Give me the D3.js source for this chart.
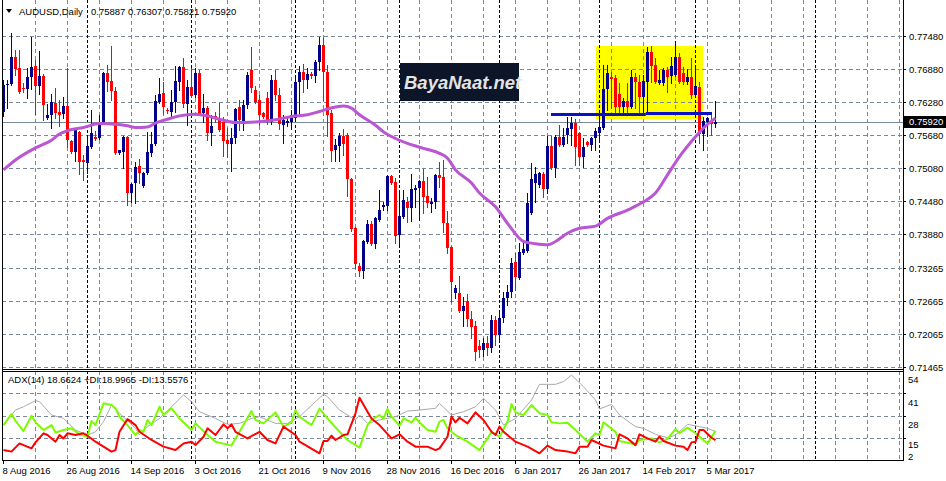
<!DOCTYPE html>
<html><head><meta charset="utf-8">
<script src="https://cdn.jsdelivr.net/npm/d3@7"></script>
<style>
body{margin:0;background:#fff}
svg{display:block}
text{font-family:"Liberation Sans",Arial,sans-serif;font-size:9.5px;fill:#000}
</style>
</head><body>
<svg id="c" width="946" height="481"></svg>
<script>
// ---------------- DATA ----------------
const symbolTitle = "AUDUSD,Daily";
const headerValues = "0.75887 0.76307 0.75821 0.75920";
const adxTitle = "ADX(14) 18.6624 +DI:18.9965 -DI:13.5576";
const lastPrice = 0.75920;
const lastPriceLabel = "0.75920";

const opens = [0.7610,0.7659,0.7661,0.7710,0.7690,0.7653,0.7652,0.7673,0.7693,0.7657,
0.7675,0.7599,0.7604,0.7626,0.7610,0.7606,0.7621,0.7557,0.7537,0.7573,
0.7523,0.7517,0.7546,0.7564,0.7563,0.7590,0.7681,0.7666,0.7648,0.7535,
0.7537,0.7564,0.7463,0.7481,0.7512,0.7475,0.7499,0.7535,0.7552,0.7628,
0.7644,0.7613,0.7610,0.7628,0.7664,0.7692,0.7624,0.7655,0.7641,0.7681,
0.7608,0.7617,0.7572,0.7603,0.7599,0.7592,0.7559,0.7552,0.7563,0.7619,
0.7590,0.7622,0.7686,0.7650,0.7632,0.7608,0.7635,0.7592,0.7668,0.7641,
0.7586,0.7590,0.7592,0.7599,0.7664,0.7683,0.7668,0.7679,0.7675,0.7701,
0.7732,0.7683,0.7608,0.7541,0.7548,0.7566,0.7568,0.7488,0.7399,0.7330,
0.7321,0.7374,0.7406,0.7370,0.7414,0.7437,0.7439,0.7494,0.7483,0.7387,
0.7419,0.7446,0.7436,0.7468,0.7472,0.7485,0.7457,0.7443,0.7446,0.7495,
0.7492,0.7408,0.7365,0.7281,0.7281,0.7249,0.7267,0.7234,0.7221,0.7185,
0.7178,0.7191,0.7181,0.7232,0.7205,0.7236,0.7272,0.7283,0.7338,0.7308,
0.7354,0.7357,0.7426,0.7481,0.7477,0.7497,0.7470,0.7548,0.7508,0.7564,
0.7550,0.7568,0.7579,0.7590,0.7572,0.7528,0.7555,0.7550,0.7563,0.7572,
0.7581,0.7652,0.7673,0.7672,0.7642,0.7619,0.7630,0.7619,0.7673,0.7664,
0.7637,0.7664,0.7719,0.7695,0.7662,0.7662,0.7686,0.7675,0.7677,0.7710,
0.7681,0.7664,0.7673,0.7641,0.7655,0.7570,0.7592,0.7592,0.75887];

const highs = [0.7668,0.7668,0.7753,0.7722,0.7722,0.7662,0.7690,0.7746,0.7704,0.7721,
0.7679,0.7624,0.7642,0.7653,0.7632,0.7637,0.7690,0.7559,0.7581,0.7575,
0.7532,0.7564,0.7613,0.7575,0.7604,0.7683,0.7695,0.7730,0.7655,0.7541,
0.7566,0.7566,0.7481,0.7519,0.7524,0.7501,0.7573,0.7573,0.7641,0.7672,
0.7664,0.7617,0.7650,0.7693,0.7693,0.7708,0.7668,0.7690,0.7690,0.7686,
0.7642,0.7621,0.7604,0.7610,0.7626,0.7601,0.7581,0.7581,0.7617,0.7632,
0.7632,0.7683,0.7728,0.7657,0.7641,0.7610,0.7646,0.7677,0.7686,0.7653,
0.7604,0.7599,0.7613,0.7672,0.7693,0.7697,0.7690,0.7683,0.7704,0.7746,
0.7744,0.7695,0.7613,0.7561,0.7572,0.7579,0.7572,0.7490,0.7401,0.7336,
0.7377,0.7414,0.7412,0.7419,0.7468,0.7446,0.7495,0.7495,0.7490,0.7468,
0.7468,0.7455,0.7497,0.7477,0.7486,0.7506,0.7492,0.7454,0.7497,0.7519,
0.7523,0.7430,0.7367,0.7296,0.7312,0.7274,0.7279,0.7249,0.7230,0.7196,
0.7200,0.7203,0.7241,0.7240,0.7247,0.7283,0.7296,0.7345,0.7354,0.7372,
0.7372,0.7463,0.7517,0.7510,0.7501,0.7501,0.7566,0.7566,0.7568,0.7586,
0.7581,0.7601,0.7601,0.7597,0.7573,0.7563,0.7557,0.7564,0.7581,0.7601,
0.7695,0.7695,0.7683,0.7677,0.7662,0.7635,0.7662,0.7686,0.7681,0.7677,
0.7677,0.7728,0.7730,0.7708,0.7686,0.7690,0.7692,0.7710,0.7739,0.7717,
0.7692,0.7688,0.7708,0.7692,0.7664,0.7601,0.7601,0.7608,0.76307];

const lows = [0.7603,0.7617,0.7659,0.7677,0.7644,0.7646,0.7635,0.7652,0.7606,0.7642,
0.7595,0.7597,0.7581,0.7599,0.7584,0.7599,0.7546,0.7535,0.7521,0.7497,
0.7486,0.7499,0.7544,0.7559,0.7561,0.7588,0.7648,0.7632,0.7534,0.7534,
0.7508,0.7441,0.7446,0.7445,0.7481,0.7474,0.7497,0.7530,0.7550,0.7626,
0.7606,0.7608,0.7599,0.7610,0.7650,0.7619,0.7586,0.7637,0.7637,0.7604,
0.7592,0.7559,0.7550,0.7592,0.7575,0.7530,0.7528,0.7503,0.7553,0.7577,
0.7577,0.7617,0.7646,0.7626,0.7586,0.7599,0.7588,0.7588,0.7632,0.7579,
0.7553,0.7584,0.7579,0.7595,0.7608,0.7646,0.7653,0.7672,0.7664,0.7686,
0.7632,0.7566,0.7521,0.7521,0.7521,0.7532,0.7457,0.7394,0.7327,0.7312,
0.7308,0.7372,0.7368,0.7363,0.7412,0.7432,0.7432,0.7479,0.7372,0.7370,
0.7417,0.7410,0.7412,0.7437,0.7414,0.7426,0.7437,0.7428,0.7436,0.7474,
0.7392,0.7354,0.7265,0.7272,0.7247,0.7221,0.7221,0.7200,0.7160,0.7165,
0.7167,0.7169,0.7174,0.7187,0.7196,0.7229,0.7259,0.7274,0.7287,0.7307,
0.7352,0.7356,0.7425,0.7446,0.7474,0.7455,0.7463,0.7506,0.7492,0.7548,
0.7548,0.7553,0.7550,0.7514,0.7514,0.7510,0.7548,0.7541,0.7541,0.7559,
0.7579,0.7613,0.7617,0.7608,0.7608,0.7608,0.7608,0.7617,0.7617,0.7610,
0.7610,0.7610,0.7664,0.7662,0.7661,0.7659,0.7646,0.7662,0.7675,0.7662,
0.7661,0.7661,0.7635,0.7637,0.7553,0.7541,0.7566,0.7568,0.75821];

const closes = [0.7659,0.7661,0.7710,0.7688,0.7646,0.7652,0.7673,0.7692,0.7657,0.7675,
0.7622,0.7604,0.7628,0.7608,0.7604,0.7621,0.7559,0.7537,0.7579,0.7519,
0.7519,0.7548,0.7572,0.7561,0.7590,0.7681,0.7664,0.7648,0.7535,0.7541,
0.7564,0.7463,0.7479,0.7510,0.7499,0.7499,0.7537,0.7552,0.7630,0.7642,
0.7619,0.7612,0.7628,0.7666,0.7692,0.7624,0.7655,0.7639,0.7681,0.7606,
0.7617,0.7572,0.7584,0.7597,0.7577,0.7557,0.7552,0.7563,0.7615,0.7595,
0.7622,0.7677,0.7653,0.7628,0.7604,0.7601,0.7592,0.7668,0.7641,0.7588,
0.7595,0.7593,0.7604,0.7664,0.7683,0.7668,0.7679,0.7675,0.7701,0.7732,
0.7683,0.7604,0.7539,0.7550,0.7566,0.7552,0.7488,0.7397,0.7334,0.7321,
0.7376,0.7406,0.7370,0.7417,0.7432,0.7441,0.7494,0.7481,0.7385,0.7421,
0.7450,0.7436,0.7470,0.7472,0.7485,0.7455,0.7445,0.7446,0.7495,0.7490,
0.7408,0.7363,0.7301,0.7290,0.7249,0.7258,0.7234,0.7220,0.7174,0.7178,
0.7191,0.7181,0.7232,0.7205,0.7236,0.7272,0.7283,0.7336,0.7310,0.7356,
0.7361,0.7445,0.7488,0.7497,0.7499,0.7470,0.7548,0.7508,0.7564,0.7550,
0.7564,0.7581,0.7590,0.7546,0.7528,0.7546,0.7550,0.7563,0.7575,0.7583,
0.7652,0.7681,0.7670,0.7619,0.7619,0.7630,0.7619,0.7673,0.7664,0.7637,
0.7666,0.7719,0.7693,0.7664,0.7668,0.7686,0.7673,0.7693,0.7710,0.7664,
0.7664,0.7673,0.7641,0.7657,0.7570,0.7593,0.7599,0.7588,0.75920];

// moving average (purple), read at sample bars
const maBars = [0,3,8,12,14,16,20,24,28,31,33,36,38,41,44,48,51,54,58,63,68,72,76,79,83,85,87,89,93,95,98,101,105,109,111,113,117,119,123,126,130,133,136,138,141,144,148,151,156,160,163,166,169,173,175,178];
const maValues = [0.7505,0.7523,0.7545,0.7559,0.7570,0.7576,0.7582,0.7589,0.7588,0.7585,0.7582,0.7583,0.7590,0.7597,0.7603,0.7606,0.7603,0.7597,0.7591,0.7592,0.7596,0.7602,0.7605,0.7611,0.7619,0.7621,0.7617,0.7605,0.7586,0.7574,0.7562,0.7553,0.7544,0.7535,0.7526,0.7505,0.7481,0.7463,0.7438,0.7408,0.7375,0.7371,0.7369,0.7375,0.7390,0.7399,0.7403,0.7417,0.7432,0.7447,0.7463,0.7496,0.7529,0.7565,0.7581,0.7599];

// ADX(14) pane
const plusDIBars = [0,2,3,5,7,8,10,12,13,15,17,19,21,22,23,25,27,28,29,31,33,34,35,36,37,39,40,42,44,47,48,51,53,57,59,62,63,65,68,70,72,73,74,77,79,81,84,86,89,91,92,94,95,96,97,99,100,102,103,104,106,108,109,110,111,113,116,119,121,122,124,126,127,128,130,132,134,136,137,139,141,143,146,148,149,150,153,154,157,158,159,162,164,166,168,169,171,173,174,176,178];
const plusDIValues = [22.4,28.9,24.8,18.9,27.9,24.0,19.5,22.4,18.1,19.5,20.5,17.0,15.6,24.8,22.4,35.1,34.1,32.2,27.3,22.4,16.6,19.5,18.5,25.4,22.4,33.1,28.3,32.2,26.3,19.5,23.4,16.6,12.7,10.4,18.5,30.6,25.4,23.4,29.8,21.5,24.0,31.2,27.3,22.4,32.0,26.3,18.5,13.7,9.2,22.4,25.4,28.3,26.3,31.8,27.3,22.0,26.3,24.0,26.7,24.0,19.5,18.5,24.4,25.4,20.5,16.6,12.7,7.8,14.6,18.5,15.6,24.4,34.7,29.8,28.3,34.1,29.3,28.3,24.0,23.4,23.8,19.5,12.7,17.6,16.6,24.0,18.5,13.1,11.7,10.7,13.7,14.6,12.3,14.3,20.1,17.6,20.9,17.6,15.6,11.7,19.0];
const minusDIBars = [0,2,4,5,7,8,10,11,13,14,15,16,18,20,21,23,27,28,29,31,33,34,37,40,43,45,47,48,50,51,53,55,56,57,58,61,64,66,68,70,73,74,79,80,81,82,83,85,86,88,89,91,92,94,97,99,101,103,106,108,109,111,112,113,114,116,118,120,122,123,124,125,128,131,134,136,138,141,143,144,146,147,150,153,154,156,158,159,161,163,164,165,168,170,171,172,173,174,175,177,178];
const minusDIValues = [7.8,6.9,11.7,10.7,8.8,12.3,17.6,16.6,12.7,16.6,14.6,17.6,16.6,17.6,16.2,12.7,6.9,7.8,18.5,25.9,22.4,18.5,13.7,9.8,7.8,11.7,12.7,10.7,15.6,20.5,16.6,22.8,20.5,22.8,18.5,14.6,18.5,13.7,11.7,21.5,16.6,12.7,5.9,13.1,13.1,16.2,13.7,16.6,17.0,29.3,38.4,30.2,26.3,22.4,14.6,17.0,12.7,9.8,9.8,7.8,8.8,15.6,27.3,24.0,26.7,23.4,29.8,25.4,18.5,16.6,21.5,18.5,12.7,9.8,5.9,10.4,7.8,6.9,5.9,9.8,9.8,13.7,10.4,8.8,17.0,14.6,10.7,17.0,14.6,12.7,15.6,13.1,10.4,9.8,7.8,12.3,12.7,19.5,19.5,15.0,13.6];
const adxBars = [0,3,5,8,9,12,15,18,21,23,25,27,29,33,34,36,39,42,45,47,49,53,56,59,62,64,68,71,74,78,80,81,84,88,89,91,94,98,101,104,108,109,112,115,118,120,123,125,128,132,134,138,140,142,145,148,149,152,154,158,160,163,166,168,171,174,176,178];
const adxValues = [22.4,31.2,33.1,36.7,36.1,28.3,26.3,19.5,16.6,18.5,24.4,34.1,29.3,20.5,16.6,21.5,26.3,33.1,40.0,36.1,30.2,26.3,22.8,23.4,26.3,27.3,23.4,23.4,27.3,36.1,40.4,39.0,31.2,25.4,28.3,23.4,25.4,27.3,30.6,31.2,32.2,35.1,28.3,30.2,33.1,38.0,31.2,22.4,26.3,37.0,46.2,46.2,47.8,51.6,44.8,37.0,31.8,34.5,28.3,21.5,20.5,17.0,15.0,16.6,22.8,21.5,20.5,18.7];

// axes
const priceTicks = [0.77480,0.76880,0.76280,0.75680,0.75080,0.74480,0.73880,0.73265,0.72665,0.72065,0.71465];
const priceTickLabels = ["0.77480","0.76880","0.76280","0.75680","0.75080","0.74480","0.73880","0.73265","0.72665","0.72065","0.71465"];
const adxTicks = [54,41,28,15,2];
const adxTickLabels = ["54","41","28","15","2"];
const dateBars = [0,16,32,48,64,80,96,112,128,144,160,176];
const dateLabels = ["8 Aug 2016","26 Aug 2016","14 Sep 2016","3 Oct 2016","21 Oct 2016","9 Nov 2016","28 Nov 2016","16 Dec 2016","6 Jan 2017","26 Jan 2017","14 Feb 2017","5 Mar 2017"];
const gridBars = [8,16,24,32,40,48,56,64,72,80,88,96,104,112,120,128,136,144,152,160,168,176,184,192,200,208,216,224];
const monthStartBars = [21,47,73,99,124,149,173,203];

// drawn objects (time/price anchored)
const boxBars = [148.25,175];
const boxPrices = [0.7729,0.7597];
const levelStartBars = [137,160.7];
const levelEndBars = [160.7,177.25];
const levelPrices = [0.7606,0.7609];
const logoText = "BayaNaat.net";

// ---------------- DRAW ----------------
const W=946,H=481;
const L=2, R=903, mainTop=0, mainBot=369, adxTop=371, adxBot=460;
const x = d3.scaleLinear().domain([0,224]).range([3,899]);
const y = d3.scaleLinear().domain([0.71465,0.7748]).range([367.4,36]);
const ya = d3.scaleLinear().domain([2,54]).range([460,371]);
const snap = v => Math.round(v)+0.5;

const svg = d3.select("#c");
svg.append("rect").attr("width",W).attr("height",H).attr("fill","#fff");

const GRID="#778899", BULL="#00008b", BEAR="#ff0000";

// yellow box (background object)
svg.append("rect")
  .attr("x",Math.round(x(boxBars[0]))).attr("y",Math.round(y(boxPrices[0])))
  .attr("width",Math.round(x(boxBars[1]))-Math.round(x(boxBars[0])))
  .attr("height",Math.round(y(boxPrices[1]))-Math.round(y(boxPrices[0])))
  .attr("fill","#ffff00");

const grid = svg.append("g").attr("shape-rendering","crispEdges").attr("fill","none");
gridBars.forEach(b=>{
  const xx=snap(x(b));
  grid.append("line").attr("x1",xx).attr("x2",xx).attr("y1",mainTop).attr("y2",mainBot)
    .attr("stroke",GRID).attr("stroke-dasharray","4,3");
  grid.append("line").attr("x1",xx).attr("x2",xx).attr("y1",adxTop).attr("y2",adxBot)
    .attr("stroke",GRID).attr("stroke-dasharray","4,3");
});
priceTicks.forEach(t=>{
  const yy=snap(y(t));
  grid.append("line").attr("x1",L).attr("x2",R).attr("y1",yy).attr("y2",yy)
    .attr("stroke",GRID).attr("stroke-dasharray","4,3");
});
adxTicks.slice(1,4).forEach(t=>{
  const yy=snap(ya(t));
  grid.append("line").attr("x1",L).attr("x2",R).attr("y1",yy).attr("y2",yy)
    .attr("stroke",GRID).attr("stroke-dasharray","4,3");
});
monthStartBars.forEach(b=>{
  const xx=snap(x(b));
  grid.append("line").attr("x1",xx).attr("x2",xx).attr("y1",mainTop).attr("y2",mainBot)
    .attr("stroke","#000").attr("stroke-dasharray","3,2");
  grid.append("line").attr("x1",xx).attr("x2",xx).attr("y1",adxTop).attr("y2",adxBot)
    .attr("stroke","#000").attr("stroke-dasharray","3,2");
});
grid.append("line").attr("x1",L).attr("x2",R).attr("y1",snap(y(lastPrice))).attr("y2",snap(y(lastPrice)))
  .attr("stroke",GRID);

// candles
const candles = svg.append("g").attr("shape-rendering","crispEdges");
opens.forEach((o,i)=>{
  const c=closes[i], h=highs[i], l=lows[i];
  const cx=Math.round(x(i));
  const col = c>=o ? BULL : BEAR;
  const yh=Math.round(y(h)), yl=Math.round(y(l));
  candles.append("rect").attr("x",cx).attr("y",yh).attr("width",1).attr("height",Math.max(1,yl-yh+1)).attr("fill",col);
  const yo=Math.round(y(o)), yc=Math.round(y(c));
  const top=Math.min(yo,yc), bh=Math.max(1,Math.abs(yo-yc));
  candles.append("rect").attr("x",cx-1).attr("y",top).attr("width",3).attr("height",bh).attr("fill",col);
});

// moving average
const maData = maBars.map((b,i)=>({b, v:maValues[i]}));
svg.append("path").datum(maData)
  .attr("d", d3.line().x(d=>x(d.b)+0.5).y(d=>y(d.v)).curve(d3.curveMonotoneX))
  .attr("fill","none").attr("stroke","#ba55d3").attr("stroke-width",3);

// support level lines
levelPrices.forEach((p,i)=>{
  const yy=Math.round(y(p))+0.5;
  svg.append("line").attr("x1",x(levelStartBars[i])).attr("x2",x(levelEndBars[i]))
    .attr("y1",yy).attr("y2",yy).attr("stroke","#0a10c4").attr("stroke-width",3);
});

// logo
const logo = svg.append("g");
logo.append("rect").attr("x",400).attr("y",63).attr("width",119).attr("height",38).attr("fill","#0c1628");
logo.append("text").attr("x",404).attr("y",89).text(logoText)
  .style("font-size","18.5px").style("font-style","italic").style("font-weight","bold")
  .style("fill","#e4e4e4");

// ADX lines
function dline(bars, vals, color, w){
  const data = bars.map((b,i)=>({b, v:vals[i]}));
  svg.append("path").datum(data)
    .attr("d", d3.line().x(d=>x(d.b)+0.5).y(d=>ya(d.v)))
    .attr("fill","none").attr("stroke",color).attr("stroke-width",w).attr("stroke-linejoin","round");
}
dline(adxBars, adxValues, "#a9a9a9", 1);
dline(plusDIBars, plusDIValues, "#7cfc00", 2);
dline(minusDIBars, minusDIValues, "#ff0000", 2);

// frame
const frame = svg.append("g").attr("shape-rendering","crispEdges").attr("stroke","#000");
frame.append("line").attr("x1",2.5).attr("x2",2.5).attr("y1",0).attr("y2",461);
frame.append("line").attr("x1",R+0.5).attr("x2",R+0.5).attr("y1",0).attr("y2",461);
frame.append("line").attr("x1",2).attr("x2",R+1).attr("y1",mainBot+0.5).attr("y2",mainBot+0.5);
frame.append("line").attr("x1",2).attr("x2",R+1).attr("y1",adxTop+0.5).attr("y2",adxTop+0.5);
frame.append("line").attr("x1",2).attr("x2",R+1).attr("y1",adxBot+0.5).attr("y2",adxBot+0.5);

// right price axis
const ax = svg.append("g").attr("transform",`translate(${R},0)`)
  .call(d3.axisRight(y).tickValues(priceTicks).tickFormat((d,i)=>priceTickLabels[i]).tickSize(3).tickSizeOuter(0));
ax.select(".domain").remove();
ax.selectAll("text").attr("x",6).style("font-family","Liberation Sans, Arial, sans-serif").style("font-size","9.5px");
ax.selectAll("line").attr("shape-rendering","crispEdges");

// current price tag
svg.append("rect").attr("x",904).attr("y",Math.round(y(lastPrice))-6).attr("width",42).attr("height",12).attr("fill","#000");
svg.append("text").attr("x",909).attr("y",y(lastPrice)).attr("dy","0.35em").text(lastPriceLabel).style("fill","#fff");

// ADX axis
const aa = svg.append("g").attr("transform",`translate(${R},0)`)
  .call(d3.axisRight(ya).tickValues(adxTicks).tickFormat((d,i)=>adxTickLabels[i]).tickSize(3).tickSizeOuter(0));
aa.select(".domain").remove();
aa.selectAll("line").attr("shape-rendering","crispEdges");
aa.selectAll("text").attr("x",5)
  .attr("dy",d=> d===2 ? "-0.05em" : (d===15 ? "1.05em" : "1.25em"))
  .style("font-family","Liberation Sans, Arial, sans-serif").style("font-size","9.5px");
aa.selectAll(".tick").filter(d=>d===54||d===2).select("line").remove();

// bottom date axis
const bx = svg.append("g").attr("transform",`translate(0,${adxBot})`)
  .call(d3.axisBottom(x).tickValues(dateBars).tickFormat((d,i)=>dateLabels[i]).tickSize(4).tickSizeOuter(0));
bx.select(".domain").remove();
bx.selectAll("line").attr("shape-rendering","crispEdges");
bx.selectAll("text").attr("text-anchor","start").attr("x",-1)
  .style("font-family","Liberation Sans, Arial, sans-serif").style("font-size","9.5px");

// headers
svg.append("path").attr("d","M6,9 L12,9 L9,13 Z").attr("fill","#000");
svg.append("text").attr("x",19).attr("y",15).text(symbolTitle);
svg.append("text").attr("x",91).attr("y",15).text(headerValues);
svg.append("text").attr("x",8).attr("y",383).text(adxTitle);
</script>
</body></html>
